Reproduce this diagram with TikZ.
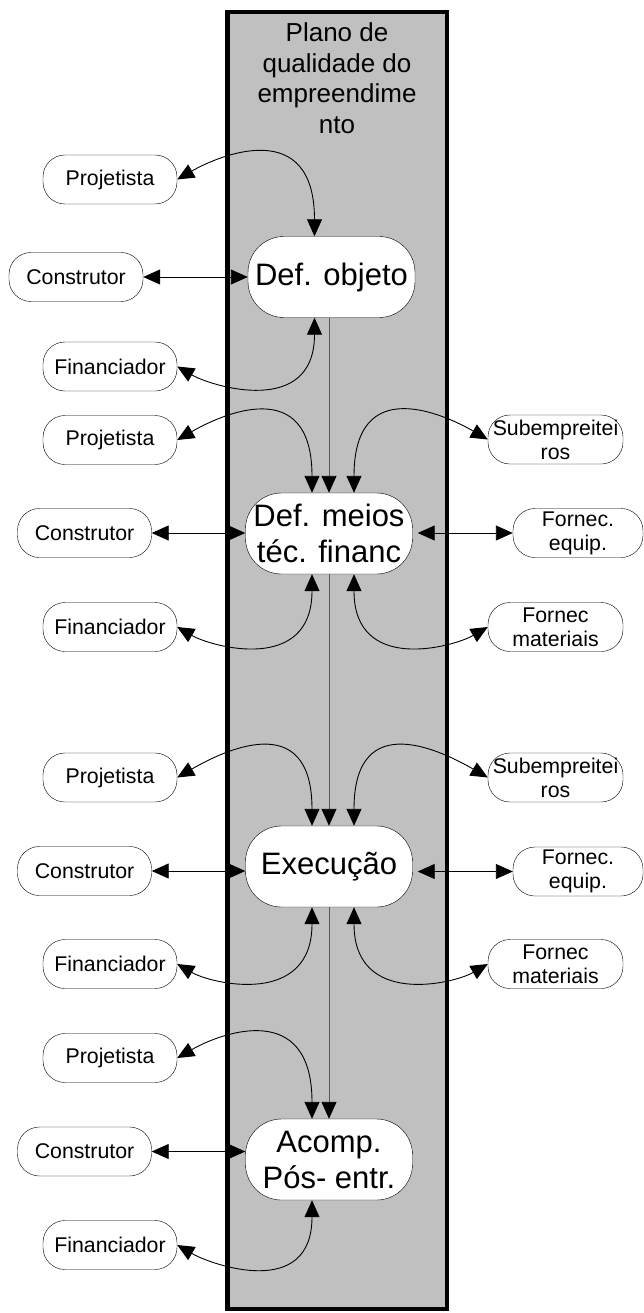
\documentclass[tikz,border=0pt]{standalone}
\usepackage{fontspec}
\setmainfont{Liberation Sans}
\usepackage{tikz}
\usetikzlibrary{arrows.meta}
\definecolor{planogray}{RGB}{192,192,192}

\begin{document}
\begin{tikzpicture}[x=1pt,y=-1pt,
  ator/.style={draw,fill=white,rounded corners=22pt,minimum width=134pt,
    minimum height=49pt,inner sep=0pt,align=center,
    font=\fontsize{21.3}{24}\selectfont},
  etapa/.style={draw,fill=white,rounded corners=36pt,minimum width=167pt,
    minimum height=81pt,inner sep=0pt,align=center,
    font=\fontsize{31}{36}\selectfont},
  liga/.style={line width=0.9pt,
    {Triangle[length=17pt,width=15pt]}-{Triangle[length=17pt,width=15pt]}},
  fluxo/.style={line width=0.9pt,draw=black!65,
    -{Triangle[length=17pt,width=15pt,color=black]}}]
\useasboundingbox (0,0) rectangle (644,1313);

% faixa do plano
\draw[line width=4.5pt,fill=planogray] (227.5,12) rectangle (447,1309);
\node[align=center,font=\fontsize{26}{30.5}\selectfont] (titulo) at (337,78)
  {Plano de\\qualidade do\\empreendime\\nto};

% etapas
\node[etapa] (dobj) at (331.5,277) {Def. objeto};
\node[etapa] (dmeios) at (329,533.5) {Def. meios\\téc. financ};
\node[etapa] (exec) at (329,866.5) {Execução};
\node[etapa] (acomp) at (329,1159.5) {Acomp.\\Pós- entr.};

% agentes
\node[ator] (proj1) at (110,179.5) {Projetista};
\node[ator] (cons1) at (76,277) {Construtor};
\node[ator] (fin1) at (110,366.5) {Financiador};

\node[ator] (proj2) at (110,440) {Projetista};
\node[ator] (cons2) at (84.5,533) {Construtor};
\node[ator] (fin2) at (110,627) {Financiador};
\node[ator,minimum width=135pt] (sub2) at (555.5,439.5) {Subempreitei\\ros};
\node[ator,minimum width=130pt] (feq2) at (578,533) {Fornec.\\equip.};
\node[ator,minimum width=135pt] (fmat2) at (555.5,627) {Fornec\\materiais};

\node[ator] (proj3) at (110,777.5) {Projetista};
\node[ator] (cons3) at (84.5,871) {Construtor};
\node[ator] (fin3) at (110,964) {Financiador};
\node[ator,minimum width=135pt] (sub3) at (555.5,777.5) {Subempreitei\\ros};
\node[ator,minimum width=130pt] (feq3) at (578,871.5) {Fornec.\\equip.};
\node[ator,minimum width=135pt] (fmat3) at (555.5,964) {Fornec\\materiais};

\node[ator] (proj4) at (110,1058) {Projetista};
\node[ator] (cons4) at (84.5,1151.5) {Construtor};
\node[ator] (fin4) at (110,1245) {Financiador};

% fluxo central
\draw[fluxo] (dmeios.north |- dobj.south) -- (dmeios.north);
\draw[fluxo] (dmeios.south) -- (exec.north);
\draw[fluxo] (exec.south) -- (acomp.north);

% ligacoes esquerda
\foreach \i/\e in {1/dobj,2/dmeios,3/exec,4/acomp}{
  \draw[liga] (proj\i.east) .. controls +(30:50pt) and +(90:120pt)
    .. ([xshift=-17pt]\e.north);
  \draw[liga] (cons\i.east) -- (cons\i.east -| \e.west);
  \draw[liga] (fin\i.east) .. controls +(-30:40pt) and +(-90:100pt)
    .. ([xshift=-17pt]\e.south);
}

% ligacoes direita
\foreach \i/\e in {2/dmeios,3/exec}{
  \draw[liga] (sub\i.west) .. controls +(150:50pt) and +(90:120pt)
    .. ([xshift=25pt]\e.north);
  \draw[liga,shorten >=5pt] (feq\i.west) -- (feq\i.west -| \e.east);
  \draw[liga] (fmat\i.west) .. controls +(-150:40pt) and +(-90:100pt)
    .. ([xshift=25pt]\e.south);
}
\end{tikzpicture}
\end{document}
